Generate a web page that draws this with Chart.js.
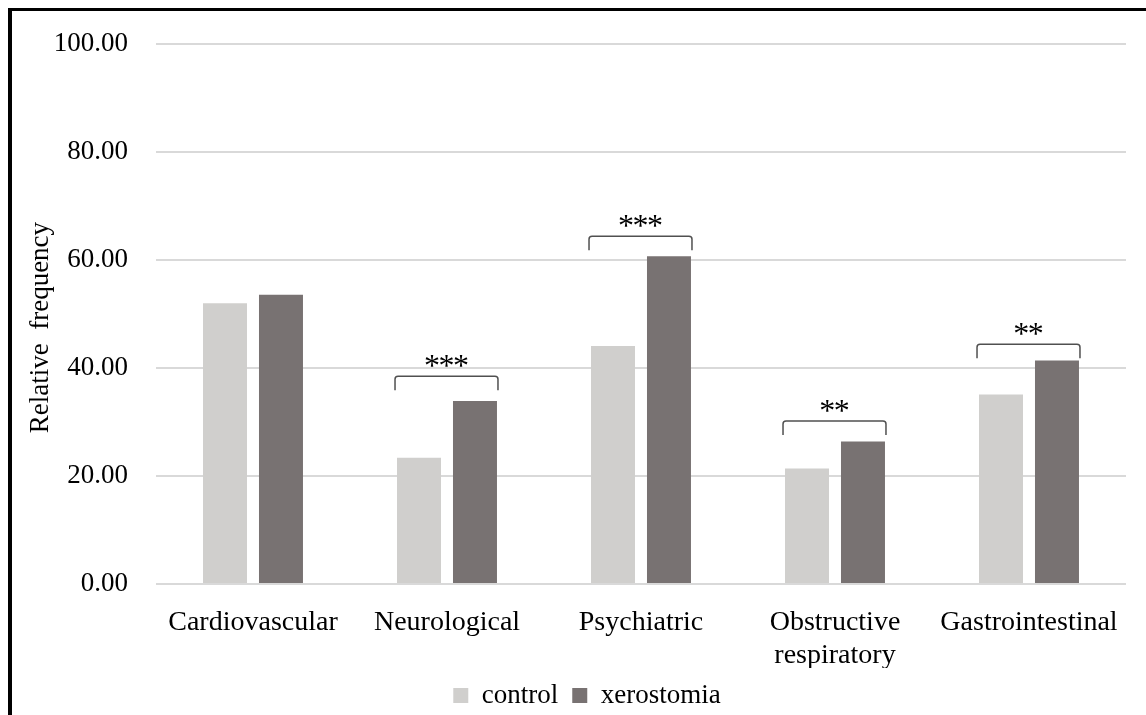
<!DOCTYPE html>
<html>
<head>
<meta charset="utf-8">
<script src="https://cdn.jsdelivr.net/npm/chart.js@4.4.1/dist/chart.umd.min.js"></script>
<style>
  html, body { margin: 0; padding: 0; background: #fff; }
  #wrap { position: relative; width: 1146px; height: 715px; overflow: hidden; }
  #frame {
    position: absolute; left: 8px; top: 8px; right: -10px; bottom: -10px;
    border-left: 4px solid #000; border-top: 3px solid #000;
    pointer-events: none;
  }
  canvas { position: absolute; left: 0; top: 0; }
</style>
</head>
<body>
<div id="wrap">
  <canvas id="chart" width="1146" height="715"></canvas>
  <div id="frame"></div>
</div>
<script>
// Comorbidity groups on the x axis
const categories = ['Cardiovascular', 'Neurological', 'Psychiatric', ['Obstructive', 'respiratory'], 'Gastrointestinal'];
// Relative frequency (%) per group
const controlValues = [52.0, 23.4, 44.1, 21.4, 35.1];
const xerostomiaValues = [53.6, 33.9, 60.7, 26.4, 41.4];
// y axis ticks
const yTicks = [0, 20, 40, 60, 80, 100];
// significance marks and the level (in axis units) of each comparison bracket
const significance = ['', '***', '***', '**', '**'];
const bracketLevels = [null, 38.5, 64.4, 30.2, 44.4];

const FONT = 'Liberation Serif';
const TEXT = '#000';

// Draws the comparison brackets with their star marks above each group
const bracketPlugin = {
  id: 'brackets',
  afterDatasetsDraw(chart) {
    const ctx = chart.ctx;
    const a = chart.getDatasetMeta(0).data;
    const b = chart.getDatasetMeta(1).data;
    const yScale = chart.scales.y;
    ctx.save();
    significance.forEach((mark, i) => {
      if (!mark) return;
      const x1 = a[i].x - a[i].width / 2 - 2;
      const x2 = b[i].x + b[i].width / 2 + 1;
      const y = yScale.getPixelForValue(bracketLevels[i]);
      const drop = 14, r = 3;
      ctx.beginPath();
      ctx.moveTo(x1, y + drop);
      ctx.lineTo(x1, y + r);
      ctx.arcTo(x1, y, x1 + r, y, r);
      ctx.lineTo(x2 - r, y);
      ctx.arcTo(x2, y, x2, y + r, r);
      ctx.lineTo(x2, y + drop);
      ctx.strokeStyle = '#505050';
      ctx.lineWidth = 1.5;
      ctx.stroke();

      ctx.fillStyle = '#000';
      ctx.font = '32px "' + FONT + '"';
      ctx.textAlign = 'center';
      ctx.textBaseline = 'alphabetic';
      const step = 14.5;
      const cx = (x1 + x2) / 2;
      const n = mark.length;
      for (let k = 0; k < n; k++) {
        const sx = cx + (k - (n - 1) / 2) * step;
        ctx.fillText('*', sx, y);
      }
    });
    ctx.restore();
  }
};

new Chart(document.getElementById('chart'), {
  type: 'bar',
  data: {
    labels: categories,
    datasets: [
      { label: 'control', data: controlValues, backgroundColor: '#D0CFCD', borderWidth: 0 },
      { label: 'xerostomia', data: xerostomiaValues, backgroundColor: '#787272', borderWidth: 0 }
    ]
  },
  options: {
    responsive: false,
    animation: false,
    events: [],
    layout: { padding: { left: 48, right: 20, top: 42, bottom: 7 } },
    datasets: { bar: { categoryPercentage: 0.577, barPercentage: 0.786 } },
    plugins: {
      tooltip: { enabled: false },
      legend: {
        position: 'bottom',
        maxHeight: 40,
        labels: {
          boxWidth: 15, boxHeight: 15, padding: 14,
          color: TEXT,
          font: { family: FONT, size: 27 }
        }
      }
    },
    scales: {
      x: {
        afterFit(scale) { scale.height = 84; },
        grid: { display: false, drawTicks: false },
        border: { display: false },
        ticks: {
          color: TEXT, padding: 22, maxRotation: 0, autoSkip: false,
          font: { family: FONT, size: 28, lineHeight: 1.18 }
        }
      },
      y: {
        min: 0, max: 100,
        afterBuildTicks(scale) { scale.ticks = yTicks.map(v => ({ value: v })); },
        afterFit(scale) { scale.width = 108; },
        grid: { color: '#D9D9D9', lineWidth: 2, drawTicks: false },
        border: { display: false },
        ticks: {
          color: TEXT, padding: 28,
          font: { family: FONT, size: 27 },
          callback: v => Number(v).toFixed(2)
        },
        title: {
          display: true, text: 'Relative  frequency    ', color: TEXT,
          font: { family: FONT, size: 27 },
          padding: { top: -23, bottom: 0 }
        }
      }
    }
  },
  plugins: [bracketPlugin]
});
</script>
</body>
</html>
